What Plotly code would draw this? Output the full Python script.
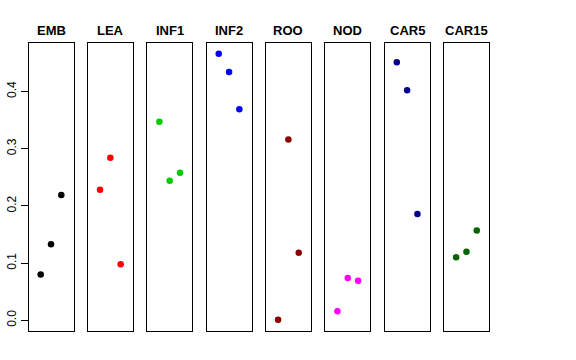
import plotly.graph_objects as go

panels = ["EMB", "LEA", "INF1", "INF2", "ROO", "NOD", "CAR5", "CAR15"]
colors = ["#000000", "#FF0000", "#00CD00", "#0000FF", "#8B0000", "#FF00FF", "#00008B", "#006400"]
positions = [1, 2, 3]
emb = [0.080, 0.133, 0.219]
lea = [0.228, 0.284, 0.098]
inf1 = [0.347, 0.244, 0.258]
inf2 = [0.466, 0.434, 0.369]
roo = [0.001, 0.316, 0.118]
nod = [0.016, 0.074, 0.069]
car5 = [0.451, 0.402, 0.186]
car15 = [0.110, 0.120, 0.157]
series = [emb, lea, inf1, inf2, roo, nod, car5, car15]
ytick_vals = [0.0, 0.1, 0.2, 0.3, 0.4]
ytick_text = ["0.0", "0.1", "0.2", "0.3", "0.4"]

W, H = 576, 360
left0, pw, pitch = 28.5, 45.0, 59.35
top_px, bot_px = 42.7, 331.0
yrange = [-0.0187, 0.4852]
xrange_ = [-0.18, 4.18]

fig = go.Figure()
layout = dict(
    width=W, height=H, margin=dict(l=0, r=0, t=0, b=0),
    plot_bgcolor="white", paper_bgcolor="white", showlegend=False,
    font=dict(family="Liberation Sans, Arial, sans-serif", color="black"),
)
annotations = []
for i, (name, col, vals) in enumerate(zip(panels, colors, series)):
    k = "" if i == 0 else str(i + 1)
    x0 = left0 + i * pitch
    x1 = x0 + pw
    fig.add_trace(go.Scatter(
        x=positions, y=vals, mode="markers",
        marker=dict(color=col, size=6.5, line=dict(width=0)),
        xaxis="x" + k, yaxis="y" + k, hoverinfo="skip"))
    layout["xaxis" + k] = dict(
        domain=[x0 / W, x1 / W], range=xrange_, showgrid=False, zeroline=False,
        showticklabels=False, ticks="", showline=True, mirror=True,
        linecolor="black", linewidth=1, anchor="y" + k)
    yax = dict(
        domain=[1 - bot_px / H, 1 - top_px / H], range=yrange, showgrid=False,
        zeroline=False, showline=True, mirror=True, linecolor="black",
        linewidth=1, anchor="x" + k)
    if i == 0:
        yax.update(tickmode="array", tickvals=ytick_vals, ticktext=ytick_text,
                   ticks="outside", ticklen=7, tickcolor="black", tickwidth=1,
                   tickangle=-90, tickfont=dict(size=12, color="black"))
    else:
        yax.update(showticklabels=False, ticks="")
    layout["yaxis" + k] = yax
    annotations.append(dict(
        text="<b>" + name + "</b>", x=(x0 + x1) / 2 / W, y=1 - 30 / H,
        xref="paper", yref="paper", xanchor="center", yanchor="middle",
        showarrow=False, font=dict(size=13, color="black")))
layout["annotations"] = annotations
fig.update_layout(**layout)
fig.write_html("out.html", config={"displayModeBar": False},
               post_script="document.body.style.margin='0';")
